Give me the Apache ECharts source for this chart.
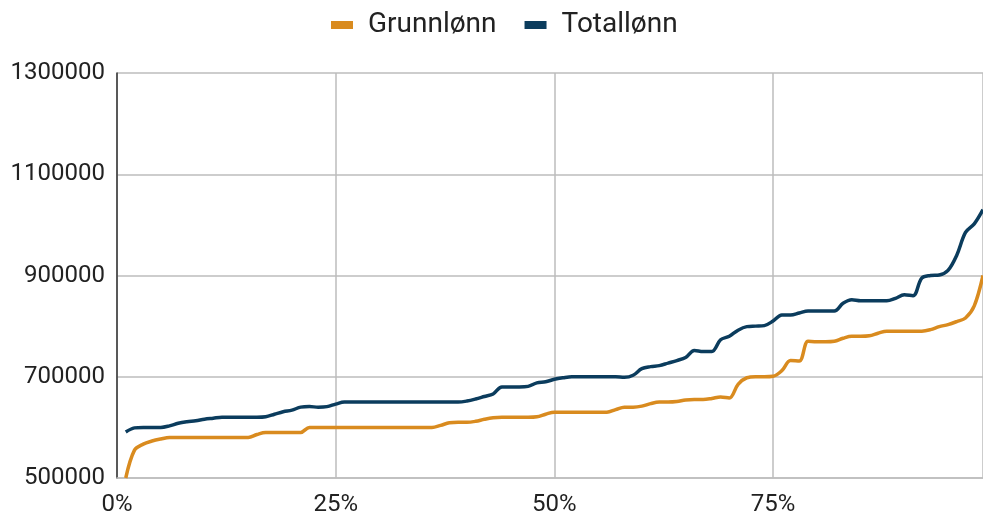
<!DOCTYPE html>
<html>
<head>
<meta charset="utf-8">
<script src="https://cdn.jsdelivr.net/npm/echarts@6/dist/echarts.min.js"></script>
<style>html,body{margin:0;padding:0;background:#fff}#c{width:983px;height:517px}</style>
</head>
<body>
<div id="c"></div>
<script>
const percentiles = [1,2,3,4,5,6,7,8,9,10,11,12,13,14,15,16,17,18,19,20,21,22,23,24,25,26,27,28,29,30,31,32,33,34,35,36,37,38,39,40,41,42,43,44,45,46,47,48,49,50,51,52,53,54,55,56,57,58,59,60,61,62,63,64,65,66,67,68,69,70,71,72,73,74,75,76,77,78,79,80,81,82,83,84,85,86,87,88,89,90,91,92,93,94,95,96,97,98,99];
const grunnlonn = [500000,555000,567000,573000,577000,580000,580000,580000,580000,580000,580000,580000,580000,580000,580000,586000,590000,590000,590000,590000,590000,600000,600000,600000,600000,600000,600000,600000,600000,600000,600000,600000,600000,600000,600000,600000,604000,609000,610000,610000,612000,616000,619000,620000,620000,620000,620000,621000,626000,630000,630000,630000,630000,630000,630000,630000,635000,640000,640000,642000,647000,650000,650000,651000,654000,655000,655000,657000,660000,658000,685000,698000,700000,700000,701000,712000,732000,731000,770000,769000,769000,770000,776000,780000,780000,781000,786000,790000,790000,790000,790000,790000,793000,799000,803000,809000,816000,840000,900000];
const totallonn = [591000,599000,600000,600000,600000,603000,608000,611000,613000,616000,618000,620000,620000,620000,620000,620000,621000,626000,631000,634000,640000,641000,640000,641000,646000,650000,650000,650000,650000,650000,650000,650000,650000,650000,650000,650000,650000,650000,650000,652000,656000,661000,666000,680000,680000,680000,681000,688000,690000,695000,698000,700000,700000,700000,700000,700000,700000,699000,703000,716000,720000,722000,727000,732000,738000,752000,750000,750000,773000,780000,792000,799000,800000,801000,810000,822000,822000,826000,830000,830000,830000,830000,845000,852000,850000,850000,850000,850000,855000,862000,860000,895000,900000,901000,910000,940000,985000,1002000,1030000];
const seriesNames = ['Grunnlønn','Totallønn'];
const yTicks = {min: 500000, max: 1300000, step: 200000};
const xTicks = {min: 0, max: 99, step: 25};

const chart = echarts.init(document.getElementById('c'), null, {renderer:'canvas'});
const font = 'Roboto';
chart.setOption({
  animation: false,
  color: ['#D98B1F', '#0B3C5D'],
  legend: {
    top: 6, left: 326, icon: 'rect', itemWidth: 22, itemHeight: 8, itemGap: 28,
    textStyle: {fontFamily: font, fontSize: 28, color: '#222', padding: [0, 0, 0, 10]},
    data: seriesNames
  },
  grid: {left: 117, top: 73, right: 0, bottom: 37},
  xAxis: {
    type: 'value', min: xTicks.min, max: xTicks.max, interval: xTicks.step,
    axisLine: {show: true, lineStyle: {color: '#BDBDBD', width: 1.5}},
    axisTick: {show: false},
    splitLine: {show: true, lineStyle: {color: '#BDBDBD', width: 1.5}},
    axisLabel: {fontFamily: font, fontSize: 24, color: '#222', margin: 15, formatter: v => v + '%', showMaxLabel: false}
  },
  yAxis: {
    type: 'value', min: yTicks.min, max: yTicks.max, interval: yTicks.step,
    axisLine: {show: true, lineStyle: {color: '#333', width: 1.5}},
    axisTick: {show: false},
    splitLine: {show: true, lineStyle: {color: '#BDBDBD', width: 1.5}},
    axisLabel: {fontFamily: font, fontSize: 24, color: '#222', margin: 12, formatter: v => String(v)}
  },
  series: [
    {name: seriesNames[0], type: 'line', smooth: 0.35, showSymbol: false, lineStyle: {width: 3.5},
     data: percentiles.map((p, i) => [p, grunnlonn[i]])},
    {name: seriesNames[1], type: 'line', smooth: 0.35, showSymbol: false, lineStyle: {width: 3.5},
     data: percentiles.map((p, i) => [p, totallonn[i]])}
  ]
});
</script>
</body>
</html>
